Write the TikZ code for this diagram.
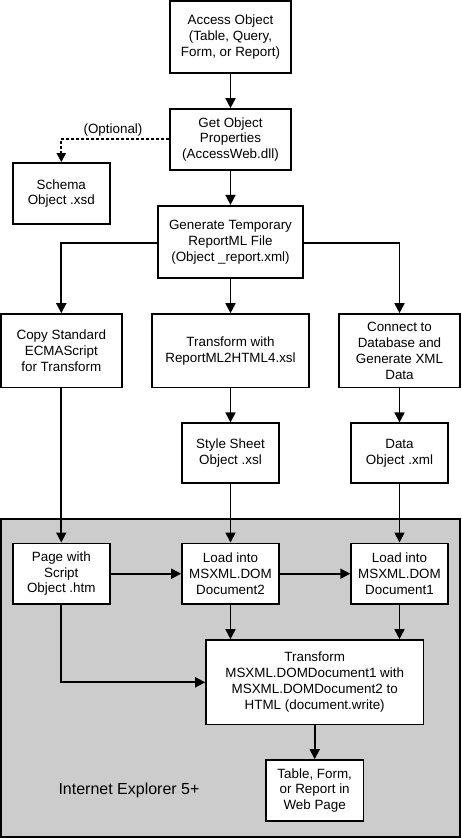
\documentclass[tikz,border=0pt]{standalone}
\usepackage{fontspec}
\setmainfont{Liberation Sans}
\usetikzlibrary{arrows.meta}
\begin{document}
\begin{tikzpicture}[x=1pt,y=-1pt,
  box/.style={draw, fill=white, line width=1.7pt, align=center, inner sep=0pt,
    font=\fontsize{13.4}{15.8}\selectfont},
  arr/.style={line width=1.7pt, -{Triangle[length=10pt,width=10pt]}},
  darr/.style={line width=1.7pt, dash pattern=on 3pt off 2pt, -{Triangle[length=9pt,width=9pt]}}]
\useasboundingbox (0,0) rectangle (461,838);
\fill[fill=black!20] (0.8,519.3) rectangle (460,836.7);
\draw[line width=1.7pt] (0.8,519.3) rectangle (460,836.7);

\node[box, minimum width=120.7pt, minimum height=72pt] (acc) at (230.5,37) {Access Object\\(Table, Query,\\Form, or Report)};
\node[box, minimum width=120.7pt, minimum height=61pt] (get) at (230.5,139.5) {Get Object\\Properties\\(AccessWeb.dll)};
\node[box, minimum width=97.3pt, minimum height=61pt] (schema) at (61.3,193.5) {Schema\\Object .xsd};
\node[box, minimum width=145pt, minimum height=72.6pt] (gen) at (230.5,242) {Generate Temporary\\ReportML File\\(Object \_report.xml)};
\node[box, minimum width=121pt, minimum height=73.3pt] (copy) at (61.3,350.7) {Copy Standard\\ECMAScript\\for Transform};
\node[box, minimum width=157.6pt, minimum height=73.3pt] (trans) at (230.5,350.7) {Transform with\\ReportML2HTML4.xsl};
\node[box, minimum width=121pt, minimum height=73.3pt] (conn) at (399.5,350.7) {Connect to\\Database and\\Generate XML\\Data};
\node[box, minimum width=97pt, minimum height=60pt] (style) at (230.5,453.3) {Style Sheet\\Object .xsl};
\node[box, minimum width=97pt, minimum height=60pt] (data) at (399.5,453.3) {Data\\Object .xml};
\node[box, minimum width=97.3pt, minimum height=60.7pt] (page) at (61.3,573.7) {Page with\\Script\\Object .htm};
\node[box, minimum width=97pt, minimum height=60.7pt] (load2) at (230.5,573.7) {Load into\\MSXML.DOM\\Document2};
\node[box, minimum width=96.7pt, minimum height=60.7pt] (load1) at (399.5,573.7) {Load into\\MSXML.DOM\\Document1};
\node[box, minimum width=217.3pt, minimum height=84.3pt] (tf) at (314.7,682.2) {Transform\\MSXML.DOMDocument1 with\\MSXML.DOMDocument2 to\\HTML (document.write)};
\node[box, minimum width=97.3pt, minimum height=61pt] (tab) at (314.7,790.5) {Table, Form,\\or Report in\\Web Page};
\node[font=\fontsize{16}{19}\selectfont] (ie) at (129,790.7) {Internet Explorer 5+};
\node[font=\fontsize{13.4}{15}\selectfont, inner sep=0pt] (opt) at (113,130) {(Optional)};

\draw[arr] (acc) -- (get);
\draw[arr] (get) -- (gen);
\draw[darr] (get.west |- 0,139.3) -| (schema.north);
\draw[arr] (gen.west |- 0,242.7) -| (copy.north);
\draw[arr] (gen) -- (trans);
\draw[arr] (gen.east |- 0,242.7) -| (conn.north);
\draw[arr] (trans) -- (style);
\draw[arr] (conn) -- (data);
\draw[arr] (copy) -- (page);
\draw[arr] (style) -- (load2);
\draw[arr] (data) -- (load1);
\draw[arr] (page) -- (load2);
\draw[arr] (load2) -- (load1);
\draw[arr] (load2.south) -- (tf.north -| load2.south);
\draw[arr] (load1.south) -- (tf.north -| load1.south);
\draw[arr] (page.south) |- (tf.west |- 0,682.3);
\draw[arr] (tf) -- (tab);
\end{tikzpicture}
\end{document}
